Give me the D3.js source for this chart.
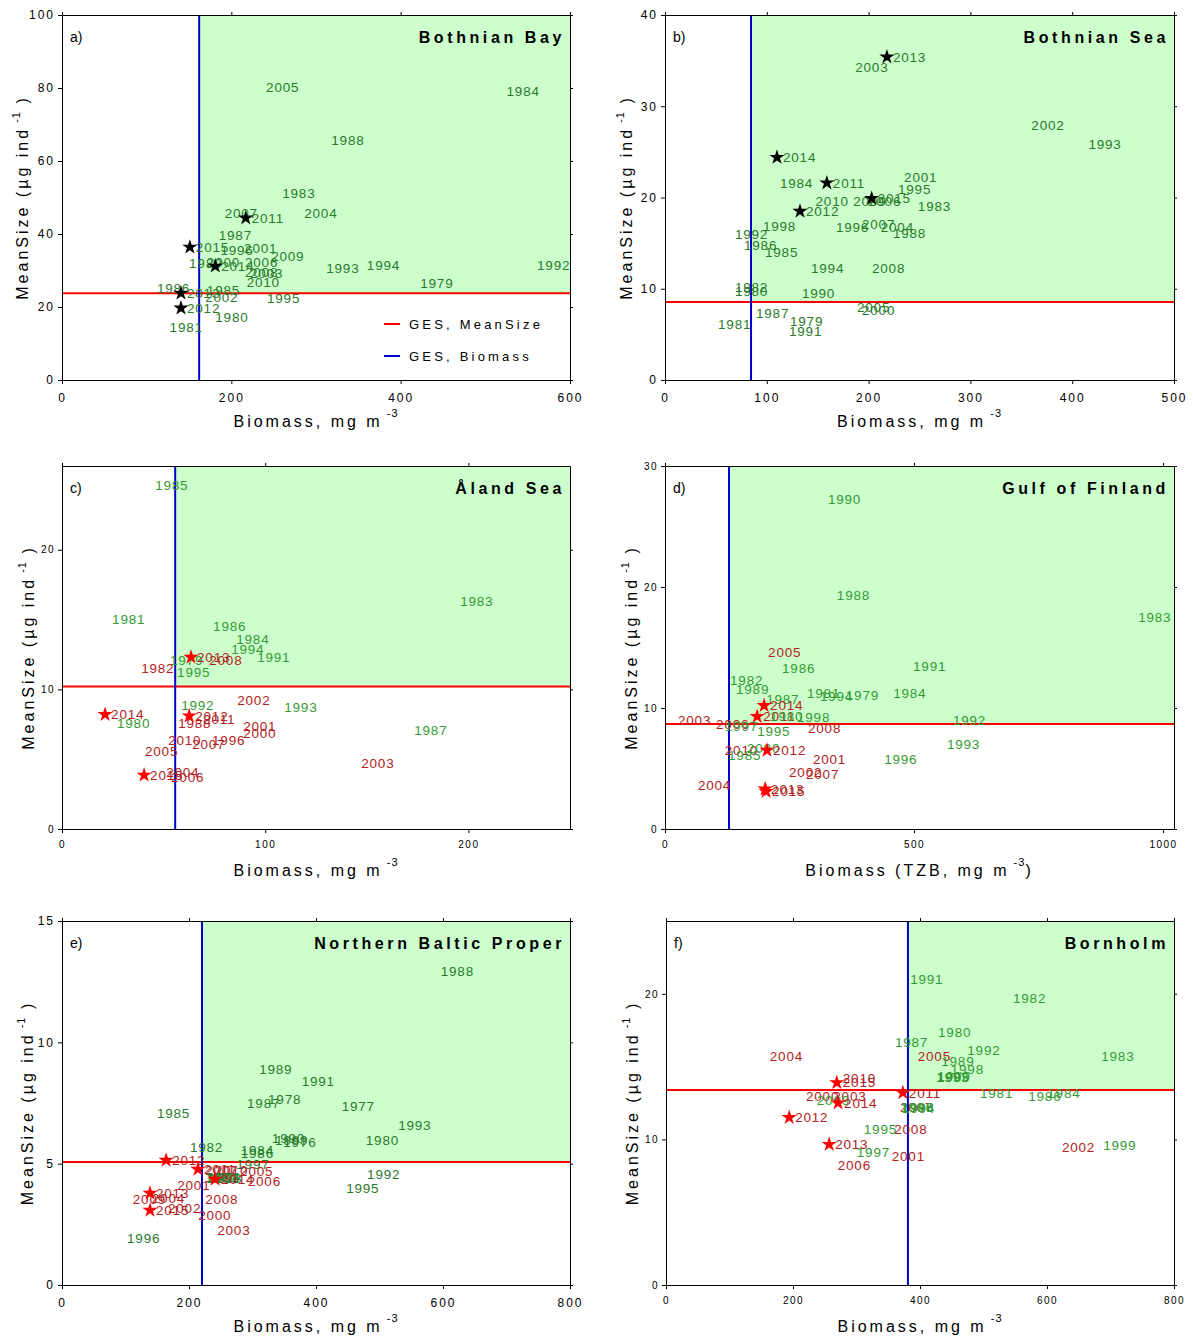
<!DOCTYPE html>
<html>
<head>
<meta charset="utf-8">
<script src="https://cdn.jsdelivr.net/npm/d3@7"></script>
<style>
  body { margin: 0; background: #fff; }
  text { font-family: "Liberation Sans", Arial, sans-serif; }
</style>
</head>
<body>
<svg id="chart" width="1193" height="1340"></svg>
<script>
// Each row: [year label, biomass, mean size, kind]
// kind: "g" green label, "r" red label, "s" star + label (2011-2015)

// a) Bothnian Bay
var bothnianBay = [
    ["2005", 234, 80.3, "g"], ["1984", 518, 79.2, "g"], ["1988", 311, 65.8, "g"],
    ["1983", 253, 51.2, "g"], ["2007", 185, 45.8, "g"], ["2011", 217, 44.4, "s"],
    ["2004", 279, 45.8, "g"], ["1987", 178, 39.7, "g"], ["2015", 151, 36.4, "s"],
    ["1996", 180, 35.6, "g"], ["2001", 208, 36.2, "g"], ["2009", 240, 34.0, "g"],
    ["1989", 143, 32.0, "g"], ["2000", 164, 32.3, "g"], ["2006", 209, 32.3, "g"],
    ["2014", 181, 31.2, "s"], ["2008", 209, 29.6, "g"], ["2003", 215, 29.3, "g"],
    ["2010", 211, 26.9, "g"], ["1993", 305, 30.7, "g"], ["1994", 353, 31.5, "g"],
    ["1979", 416, 26.6, "g"], ["1992", 554, 31.5, "g"], ["1986", 105, 25.2, "g"],
    ["1985", 164, 24.7, "g"], ["2013", 140.5, 23.8, "s"], ["2002", 162, 22.7, "g"],
    ["1995", 235, 22.5, "g"], ["2012", 140.5, 19.7, "s"], ["1980", 174, 17.3, "g"],
    ["1981", 120, 14.5, "g"]
];

// b) Bothnian Sea
var bothnianSea = [
    ["2013", 218, 35.4, "s"], ["2003", 181, 34.3, "g"], ["2002", 354, 27.9, "g"],
    ["1993", 410, 25.8, "g"], ["2014", 110, 24.4, "s"], ["2001", 229, 22.2, "g"],
    ["1984", 107, 21.6, "g"], ["2011", 159, 21.6, "s"], ["1995", 223, 20.9, "g"],
    ["2010", 142, 19.6, "g"], ["2009", 179, 19.6, "g"], ["2006", 193.5, 19.6, "g"],
    ["2015", 203, 19.9, "s"], ["1983", 242.5, 19.1, "g"], ["2012", 132.6, 18.5, "s"],
    ["1998", 90.3, 16.9, "g"], ["1996", 162, 16.7, "g"], ["2007", 187.6, 17.1, "g"],
    ["2004", 206, 16.7, "g"], ["1988", 218, 16.1, "g"], ["1992", 62.8, 16.0, "g"],
    ["1986", 71.7, 14.8, "g"], ["1985", 92.3, 14.0, "g"], ["1994", 137.5, 12.3, "g"],
    ["2008", 197.4, 12.3, "g"], ["1982", 62.8, 10.2, "g"], ["1980", 62.8, 9.75, "g"],
    ["1990", 128.6, 9.5, "g"], ["2005", 182.7, 8.0, "g"], ["2000", 187.6, 7.7, "g"],
    ["1987", 83.5, 7.3, "g"], ["1981", 46.2, 6.1, "g"], ["1979", 116.9, 6.4, "g"],
    ["1991", 115.9, 5.4, "g"]
];

// c) Åland Sea
var alandSea = [
    ["1985", 42.9, 24.6, "g"], ["1983", 193, 16.3, "g"], ["1981", 21.7, 15.0, "g"],
    ["1986", 71.4, 14.5, "g"], ["1984", 82.8, 13.6, "g"], ["1994", 80.3, 12.9, "g"],
    ["1991", 93.1, 12.3, "g"], ["1979", 50.2, 12.1, "g"], ["2013", 63.5, 12.3, "s"],
    ["2008", 69.5, 12.1, "r"], ["1982", 36, 11.5, "r"], ["1995", 53.7, 11.2, "g"],
    ["2002", 83.3, 9.2, "r"], ["1993", 106.4, 8.7, "g"], ["1992", 55.7, 8.9, "g"],
    ["2014", 21.2, 8.2, "s"], ["1980", 24.1, 7.6, "g"], ["2012", 62.6, 8.1, "s"],
    ["2011", 66.5, 7.9, "r"], ["1988", 54.2, 7.6, "r"], ["2001", 86.2, 7.35, "r"],
    ["2000", 86.2, 6.9, "r"], ["2010", 49.3, 6.4, "r"], ["1996", 70.9, 6.4, "r"],
    ["2007", 61.1, 6.1, "r"], ["2005", 37.9, 5.6, "r"], ["2003", 144.3, 4.7, "r"],
    ["1987", 170.4, 7.1, "g"], ["2015", 40.4, 3.86, "s"], ["2004", 48.3, 4.07, "r"],
    ["2006", 50.7, 3.7, "r"]
];

// d) Gulf of Finland
var gulfOfFinland = [
    ["1990", 315, 27.3, "g"], ["1988", 333, 19.3, "g"], ["1983", 938, 17.5, "g"],
    ["2005", 195, 14.6, "r"], ["1986", 223, 13.3, "g"], ["1991", 486, 13.5, "g"],
    ["1982", 118.5, 12.3, "g"], ["1989", 130.5, 11.6, "g"], ["1984", 446, 11.2, "g"],
    ["1981", 273, 11.2, "g"], ["1994", 299, 11.0, "g"], ["1979", 351, 11.1, "g"],
    ["1987", 191, 10.7, "g"], ["2014", 199, 10.2, "s"], ["2011", 185, 9.3, "s"],
    ["1980", 199, 9.3, "g"], ["1998", 253, 9.25, "g"], ["2003", 14, 9.0, "r"],
    ["2006", 90.4, 8.7, "r"], ["1997", 108, 8.5, "g"], ["1995", 173, 8.1, "g"],
    ["2008", 275, 8.3, "r"], ["1992", 566, 9.0, "g"], ["1993", 554, 7.0, "g"],
    ["1996", 428, 5.8, "g"], ["2010", 108, 6.5, "r"], ["1985", 114.5, 6.1, "g"],
    ["2000", 152.6, 6.7, "g"], ["2012", 204.8, 6.5, "s"], ["2001", 285, 5.8, "r"],
    ["2002", 237, 4.7, "r"], ["2007", 271, 4.5, "r"], ["2004", 54, 3.6, "r"],
    ["2013", 201, 3.3, "s"], ["2015", 203, 3.1, "s"]
];

// e) Northern Baltic Proper
var northernBalticProper = [
    ["1988", 587, 12.95, "g"], ["1989", 301, 8.9, "g"], ["1991", 368, 8.4, "g"],
    ["1987", 282, 7.5, "g"], ["1978", 315, 7.65, "g"], ["1977", 431, 7.36, "g"],
    ["1985", 140, 7.07, "g"], ["1993", 520, 6.58, "g"], ["1980", 469, 5.96, "g"],
    ["1990", 321, 6.04, "g"], ["1999", 326, 5.95, "g"], ["1976", 339, 5.88, "g"],
    ["1982", 192, 5.67, "g"], ["1984", 272, 5.55, "g"], ["1986", 272, 5.43, "g"],
    ["1997", 265, 5.0, "g"], ["2012", 164, 5.14, "s"], ["2011", 214, 4.77, "s"],
    ["2007", 216, 4.73, "r"], ["2010", 231.5, 4.73, "r"], ["2005", 271, 4.69, "r"],
    ["1981", 216, 4.44, "g"], ["1983", 218, 4.40, "g"], ["1994", 220, 4.46, "g"],
    ["1998", 222, 4.42, "g"], ["2014", 241, 4.36, "s"], ["2006", 283, 4.27, "r"],
    ["2001", 172, 4.1, "r"], ["1992", 471, 4.56, "g"], ["1995", 438, 4.0, "g"],
    ["2013", 138.6, 3.78, "s"], ["2009", 102, 3.53, "r"], ["2004", 132, 3.6, "r"],
    ["2008", 216, 3.53, "r"], ["2002", 157.5, 3.16, "r"], ["2015", 138.6, 3.08, "s"],
    ["2000", 205, 2.88, "r"], ["2003", 235, 2.26, "r"], ["1996", 93, 1.93, "g"]
];

// f) Bornholm
var bornholm = [
    ["1991", 375, 21.0, "g"], ["1982", 537, 19.7, "g"], ["1980", 419, 17.4, "g"],
    ["1987", 351, 16.7, "g"], ["1992", 465, 16.1, "g"], ["2004", 154, 15.7, "r"],
    ["2005", 387, 15.7, "r"], ["1983", 676, 15.7, "g"], ["1989", 424, 15.4, "g"],
    ["1998", 439, 14.8, "g"], ["1993", 416, 14.3, "g"], ["1985", 417, 14.25, "g"],
    ["1990", 418, 14.35, "g"], ["2010", 269, 14.2, "r"], ["2015", 269, 13.9, "s"],
    ["1981", 485, 13.2, "g"], ["1986", 561, 13.0, "g"], ["1984", 591, 13.2, "g"],
    ["2011", 373, 13.2, "s"], ["2000", 211, 13.0, "r"], ["2003", 254, 13.0, "r"],
    ["2009", 228, 12.7, "g"], ["2014", 271, 12.5, "s"], ["2007", 359, 12.2, "r"],
    ["1996", 360, 12.2, "g"], ["1988", 361, 12.25, "g"], ["1994", 362, 12.15, "g"],
    ["2012", 194, 11.5, "s"], ["1995", 302, 10.7, "g"], ["2008", 350, 10.7, "r"],
    ["2013", 257, 9.66, "s"], ["1997", 291, 9.1, "g"], ["2001", 346, 8.83, "r"],
    ["2006", 261, 8.2, "r"], ["2002", 614, 9.45, "r"], ["1999", 679, 9.6, "g"]
];

// GES thresholds per panel: [biomass, mean size]
var gesBothnianBay = [162, 23.8];
var gesBothnianSea = [84.5, 8.55];
var gesAlandSea = [55.7, 10.2];
var gesGulfOfFinland = [128.5, 8.68];
var gesNorthernBalticProper = [220.5, 5.07];
var gesBornholm = [381, 13.4];

var panels = [
    {tag: "a)", title: "Bothnian Bay", data: bothnianBay, ges: gesBothnianBay,
     left: 62, top: 15, width: 508, height: 365,
     xDomain: [0, 600], xTicks: [0, 200, 400, 600], yDomain: [0, 100], yTicks: [0, 20, 40, 60, 80, 100],
     tickFont: 12, titleOff: 34, star: "#000", green: "#2a7a2a", red: "#b22222", legend: true,
     xTitle: "Biomass, mg m", xTitleEnd: ""},
    {tag: "b)", title: "Bothnian Sea", data: bothnianSea, ges: gesBothnianSea,
     left: 665, top: 15, width: 509, height: 365,
     xDomain: [0, 500], xTicks: [0, 100, 200, 300, 400, 500], yDomain: [0, 40], yTicks: [0, 10, 20, 30, 40],
     tickFont: 12, titleOff: 33, star: "#000", green: "#2a7a2a", red: "#b22222",
     xTitle: "Biomass, mg m", xTitleEnd: ""},
    {tag: "c)", title: "Åland Sea", data: alandSea, ges: gesAlandSea,
     left: 62, top: 466, width: 508, height: 363,
     xDomain: [0, 250], xTicks: [0, 100, 200], yDomain: [0, 26], yTicks: [0, 10, 20],
     tickFont: 10, titleOff: 28, star: "#ff0000", green: "#349a34", red: "#b22222",
     xTitle: "Biomass, mg m", xTitleEnd: ""},
    {tag: "d)", title: "Gulf of Finland", data: gulfOfFinland, ges: gesGulfOfFinland,
     left: 665, top: 466, width: 509, height: 363,
     xDomain: [0, 1022], xTicks: [0, 500, 1000], yDomain: [0, 30], yTicks: [0, 10, 20, 30],
     tickFont: 10, titleOff: 28, star: "#ff0000", green: "#349a34", red: "#b22222",
     xTitle: "Biomass (TZB, mg m", xTitleEnd: ")"},
    {tag: "e)", title: "Northern Baltic Proper", data: northernBalticProper, ges: gesNorthernBalticProper,
     left: 62, top: 921, width: 508, height: 364,
     xDomain: [0, 800], xTicks: [0, 200, 400, 600, 800], yDomain: [0, 15], yTicks: [0, 5, 10, 15],
     tickFont: 12, titleOff: 29, star: "#ff0000", green: "#2a7a2a", red: "#b22222",
     xTitle: "Biomass, mg m", xTitleEnd: ""},
    {tag: "f)", title: "Bornholm", data: bornholm, ges: gesBornholm,
     left: 666, top: 921, width: 508, height: 364,
     xDomain: [0, 800], xTicks: [0, 200, 400, 600, 800], yDomain: [0, 25], yTicks: [0, 10, 20],
     tickFont: 10, titleOff: 28, star: "#ff0000", green: "#349a34", red: "#b22222",
     xTitle: "Biomass, mg m", xTitleEnd: ""}
];

var svg = d3.select("#chart");

panels.forEach(drawPanel);

function styleAxis(g, size) {
    g.attr("font-family", null).attr("font-size", null);
    g.selectAll("text")
        .style("font-size", size + "px")
        .style("letter-spacing", (size > 11 ? 2 : 1.5) + "px")
        .attr("fill", "#000");
    g.selectAll("line").attr("stroke", "#000");
    g.select(".domain").attr("stroke", "#000");
}

function drawPanel(p) {
    var x = d3.scaleLinear().domain(p.xDomain).range([p.left, p.left + p.width]);
    var y = d3.scaleLinear().domain(p.yDomain).range([p.top + p.height, p.top]);
    var right = p.left + p.width, bottom = p.top + p.height;
    var g = svg.append("g");

    // GES area (both indicators above threshold)
    g.append("rect")
        .attr("x", x(p.ges[0]))
        .attr("y", p.top)
        .attr("width", right - x(p.ges[0]))
        .attr("height", y(p.ges[1]) - p.top)
        .attr("fill", "#ccffcc");

    // threshold lines
    g.append("line")
        .attr("x1", p.left).attr("x2", right)
        .attr("y1", y(p.ges[1])).attr("y2", y(p.ges[1]))
        .attr("stroke", "#ff0000").attr("stroke-width", 2);
    g.append("line")
        .attr("x1", x(p.ges[0])).attr("x2", x(p.ges[0]))
        .attr("y1", p.top).attr("y2", bottom)
        .attr("stroke", "#0000cc").attr("stroke-width", 2);

    // axes, ticks on all four sides
    var pad = p.tickFont > 11 ? 9 : 8;
    g.append("g").attr("transform", "translate(0," + bottom + ")")
        .call(d3.axisBottom(x).tickValues(p.xTicks).tickFormat(d3.format("d"))
            .tickSize(4).tickSizeOuter(0).tickPadding(pad))
        .call(styleAxis, p.tickFont);
    g.append("g").attr("transform", "translate(" + p.left + ",0)")
        .call(d3.axisLeft(y).tickValues(p.yTicks).tickSize(4).tickSizeOuter(0).tickPadding(3))
        .call(styleAxis, p.tickFont);
    g.append("g").attr("transform", "translate(0," + p.top + ")")
        .call(d3.axisTop(x).tickValues(p.xTicks).tickSize(3).tickSizeOuter(0).tickFormat(""))
        .call(styleAxis, p.tickFont);
    g.append("g").attr("transform", "translate(" + right + ",0)")
        .call(d3.axisRight(y).tickValues(p.yTicks).tickSize(3).tickSizeOuter(0).tickFormat(""))
        .call(styleAxis, p.tickFont);

    // year labels
    g.append("g").selectAll("text")
        .data(p.data)
        .enter().append("text")
        .attr("x", function (d) { return x(d[1]) + 6; })
        .attr("y", function (d) { return y(d[2]); })
        .attr("dy", "0.36em")
        .style("font-size", "13.5px")
        .style("letter-spacing", "0.8px")
        .attr("fill", function (d) {
            if (d[3] === "g") return p.green;
            if (d[3] === "r") return p.red;
            return p.star === "#000" ? p.green : p.red;
        })
        .text(function (d) { return d[0]; });

    // stars for the assessment years
    g.append("g").selectAll("path")
        .data(p.data.filter(function (d) { return d[3] === "s"; }))
        .enter().append("path")
        .attr("d", d3.symbol().type(d3.symbolStar).size(72))
        .attr("transform", function (d) { return "translate(" + x(d[1]) + "," + y(d[2]) + ")"; })
        .attr("fill", p.star);

    // panel tag and title
    g.append("text")
        .attr("x", p.left + 8).attr("y", p.top + 27)
        .style("font-size", "14px")
        .text(p.tag);
    g.append("text")
        .attr("x", right - 5).attr("y", p.top + 28)
        .attr("text-anchor", "end")
        .style("font-size", "16px").style("font-weight", "bold")
        .style("letter-spacing", "3.6px")
        .text(p.title);

    // y axis title
    var yt = g.append("text")
        .attr("transform", "translate(" + (p.left - p.titleOff) + "," + (p.top + p.height / 2) + ") rotate(-90)")
        .attr("text-anchor", "middle")
        .style("font-size", "16px").style("letter-spacing", "3px");
    yt.append("tspan").text("MeanSize (µg ind");
    yt.append("tspan").attr("dy", -8).style("font-size", "11px").style("letter-spacing", "1px").text(" -1");
    yt.append("tspan").attr("dy", 8).text(" )");

    // x axis title
    var xt = g.append("text")
        .attr("x", p.left + p.width / 2).attr("y", bottom + 47)
        .attr("text-anchor", "middle")
        .style("font-size", "16px").style("letter-spacing", "3px");
    xt.append("tspan").text(p.xTitle);
    xt.append("tspan").attr("dy", -10).style("font-size", "11px").style("letter-spacing", "1px").text(" -3");
    if (p.xTitleEnd) xt.append("tspan").attr("dy", 10).text(p.xTitleEnd);

    if (p.legend) {
        var lg = [["GES, MeanSize", "#ff0000"], ["GES, Biomass", "#0000cc"]];
        lg.forEach(function (item, i) {
            var ly = p.top + 309 + i * 32;
            g.append("line")
                .attr("x1", p.left + 322).attr("x2", p.left + 338)
                .attr("y1", ly).attr("y2", ly)
                .attr("stroke", item[1]).attr("stroke-width", 2);
            g.append("text")
                .attr("x", p.left + 347).attr("y", ly).attr("dy", "0.36em")
                .style("font-size", "13px").style("letter-spacing", "3.2px")
                .text(item[0]);
        });
    }
}
</script>
</body>
</html>
